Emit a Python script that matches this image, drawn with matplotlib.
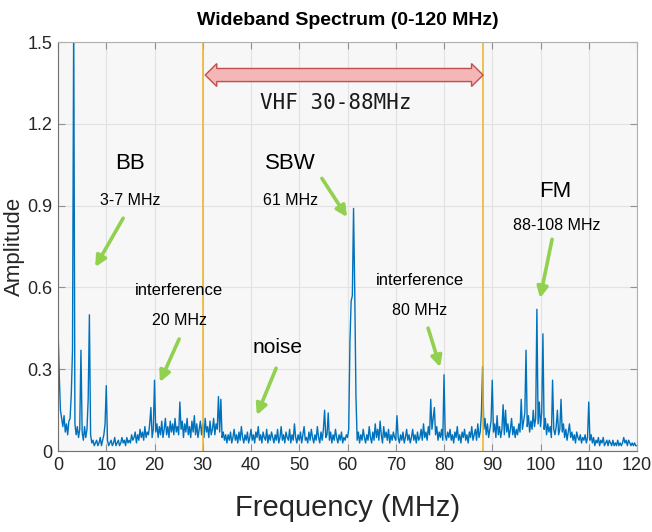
import numpy as np
import matplotlib
matplotlib.use("Agg")
from matplotlib import pyplot as plt
from matplotlib.patches import Polygon

freq_step = 0.25
amp_centi = [
    45, 28, 15, 12, 9, 13, 7, 10, 6, 11, 12, 21, 37, 160, 10, 6, 9, 5, 8, 37,
    7, 4, 9, 5, 8, 19, 50, 6, 3, 4, 2, 3, 4, 2, 3, 5, 2, 4, 6, 10,
    24, 4, 2, 3, 4, 2, 3, 5, 2, 3, 4, 2, 3, 5, 3, 4, 2, 5, 3, 4,
    3, 6, 4, 5, 7, 3, 6, 4, 8, 5, 7, 4, 9, 5, 7, 6, 10, 16, 5, 8,
    26, 7, 10, 5, 9, 6, 11, 5, 8, 12, 6, 9, 5, 11, 7, 10, 6, 12, 7, 9,
    6, 18, 8, 11, 5, 10, 7, 12, 6, 9, 5, 11, 7, 13, 6, 10, 5, 8, 11, 6,
    10, 5, 12, 7, 9, 5, 11, 6, 8, 12, 6, 10, 8, 20, 7, 19, 5, 7, 4, 6,
    3, 6, 4, 7, 3, 5, 8, 4, 6, 3, 7, 4, 9, 5, 3, 6, 4, 7, 3, 5,
    8, 4, 6, 3, 7, 5, 9, 4, 6, 3, 7, 5, 4, 8, 3, 6, 4, 7, 5, 3,
    6, 4, 8, 3, 5, 9, 4, 6, 3, 7, 5, 4, 8, 3, 6, 4, 10, 5, 3, 6,
    4, 7, 3, 6, 9, 4, 5, 3, 7, 4, 8, 5, 3, 6, 4, 9, 5, 3, 7, 4,
    8, 15, 5, 6, 14, 4, 7, 3, 6, 4, 8, 5, 3, 6, 4, 7, 3, 5, 4, 6,
    5, 8, 40, 55, 57, 89, 58, 20, 4, 7, 3, 6, 4, 8, 5, 3, 6, 4, 9, 5,
    3, 7, 4, 10, 5, 8, 4, 11, 6, 3, 9, 5, 7, 4, 8, 3, 6, 4, 7, 5,
    4, 13, 5, 3, 6, 4, 7, 3, 5, 8, 4, 6, 3, 5, 8, 4, 6, 3, 7, 4,
    5, 8, 4, 10, 5, 7, 4, 9, 6, 19, 8, 12, 16, 6, 9, 4, 7, 5, 8, 4,
    28, 6, 4, 7, 5, 8, 4, 6, 3, 7, 5, 9, 4, 6, 3, 7, 5, 8, 4, 6,
    3, 7, 5, 9, 4, 6, 8, 4, 10, 5, 7, 14, 31, 8, 12, 6, 10, 5, 8, 11,
    26, 7, 10, 5, 13, 6, 9, 5, 8, 17, 6, 15, 7, 10, 5, 8, 12, 6, 9, 5,
    8, 6, 10, 7, 19, 8, 11, 14, 37, 9, 13, 7, 11, 8, 15, 9, 12, 52, 10, 18,
    9, 14, 43, 8, 12, 6, 10, 7, 9, 5, 26, 8, 6, 9, 15, 6, 8, 19, 7, 10,
    5, 8, 4, 7, 10, 5, 7, 4, 6, 3, 7, 5, 4, 6, 3, 5, 4, 6, 3, 5,
    18, 4, 6, 3, 5, 2, 4, 3, 5, 2, 4, 3, 5, 2, 3, 4, 2, 4, 3, 2,
    4, 2, 3, 2, 4, 2, 3, 2, 3, 5, 3, 4, 2, 4, 3, 2, 3, 2, 3, 2,
    2,
]
freq = np.arange(len(amp_centi)) * freq_step
amplitude = np.array(amp_centi) / 100.0

x_ticks = list(range(0, 121, 10))
y_ticks = [0, 0.3, 0.6, 0.9, 1.2, 1.5]
y_tick_labels = ["0", "0.3", "0.6", "0.9", "1.2", "1.5"]
vhf_band = (30, 88)

# (label, sub label, label xy, sub xy, arrow start, arrow end)
notes = [
    ("BB", "3-7 MHz", (14.9, 1.056), (14.9, 0.92), (13.5, 0.854), (7.7, 0.675)),
    ("SBW", "61 MHz", (48.1, 1.056), (48.1, 0.92), (54.7, 1.0), (59.9, 0.858)),
    ("FM", "88-108 MHz", (103.0, 0.951), (103.4, 0.829), (102.4, 0.777), (99.9, 0.561)),
]
small_notes = [
    ("interference", "20 MHz", (25.1, 0.588), (25.1, 0.48), (25.1, 0.411), (21.1, 0.253)),
    ("interference", "80 MHz", (75.0, 0.627), (74.9, 0.517), (76.7, 0.451), (79.2, 0.308)),
]

sans = ["Liberation Sans", "DejaVu Sans"]
green = "#92D050"

fig = plt.figure(figsize=(6.52, 5.32), dpi=100)
ax = fig.add_axes([0.089, 0.152, 0.888, 0.769])
ax.set_facecolor("#F7F7F7")

ax.plot(freq, amplitude, color="#0072BD", lw=1.0)
for f in vhf_band:
    ax.axvline(f, color="#EDB120", lw=1.1)

ax.set_xlim(0, 120)
ax.set_ylim(0, 1.5)
ax.set_xticks(x_ticks)
ax.set_yticks(y_ticks)
ax.set_yticklabels(y_tick_labels)
ax.grid(True, color="#E2E2E2", lw=0.8)
ax.set_axisbelow(True)
ax.tick_params(direction="in", top=True, right=True, length=5, color="#909090",
               labelcolor="#262626", labelsize=13, pad=4)
for lab in ax.get_xticklabels() + ax.get_yticklabels():
    lab.set_family(sans)
for side in ["top", "right"]:
    ax.spines[side].set_color("#B0B0B0")
for side in ["bottom", "left"]:
    ax.spines[side].set_color("#707070")

ax.set_title("Wideband Spectrum (0-120 MHz)", family=sans, fontweight="bold",
             fontsize=14, pad=12)
ax.set_xlabel("Frequency (MHz)", family=sans, fontsize=21, color="#262626")
ax.xaxis.set_label_coords(0.5, -0.105)
ax.set_ylabel("Amplitude", family=sans, fontsize=16, color="#262626")
ax.yaxis.set_label_coords(-0.0565, 0.5)

# VHF double arrow
x0, x1 = 30.5, 88.1
yc, hs, hh, hl = 1.379, 0.024, 0.042, 2.4
arrow_pts = [(x0, yc), (x0 + hl, yc + hh), (x0 + hl, yc + hs), (x1 - hl, yc + hs),
             (x1 - hl, yc + hh), (x1, yc), (x1 - hl, yc - hh), (x1 - hl, yc - hs),
             (x0 + hl, yc - hs), (x0 + hl, yc - hh)]
ax.add_patch(Polygon(arrow_pts, closed=True, facecolor="#F4B6B6",
                     edgecolor="#C0504D", lw=1.0, zorder=4))
ax.text(57.6, 1.276, "VHF 30-88MHz", family="DejaVu Sans Mono", fontsize=15,
        ha="center", va="center", color="#1a1a1a")

arrowprops = dict(arrowstyle="-|>", color=green, lw=2.6, mutation_scale=16,
                  shrinkA=0, shrinkB=0)
for big, sub, pos, subpos, start, end in notes:
    ax.text(*pos, big, family=sans, fontsize=16, ha="center", va="center")
    ax.text(*subpos, sub, family=sans, fontsize=11.5, ha="center", va="center")
    ax.annotate("", xy=end, xytext=start, arrowprops=arrowprops)
for top, sub, pos, subpos, start, end in small_notes:
    ax.text(*pos, top, family=sans, fontsize=12, ha="center", va="center")
    ax.text(*subpos, sub, family=sans, fontsize=11.5, ha="center", va="center")
    ax.annotate("", xy=end, xytext=start, arrowprops=arrowprops)
ax.text(45.5, 0.38, "noise", family=sans, fontsize=15, ha="center", va="center")
ax.annotate("", xy=(41.2, 0.132), xytext=(45.2, 0.304), arrowprops=arrowprops)

fig.savefig("out.png", dpi=100)
